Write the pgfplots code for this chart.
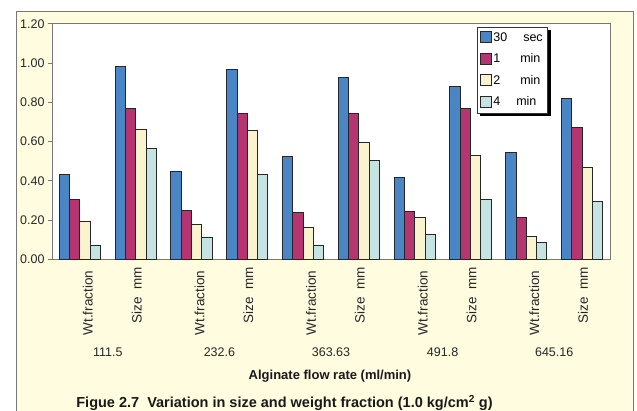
\documentclass[border=0pt]{standalone}
\usepackage{fontspec}
\setmainfont{Liberation Sans}
\usepackage{pgfplots}
\pgfplotsset{compat=1.18}
\usetikzlibrary{backgrounds}

\definecolor{sblue}{RGB}{74,134,197}
\definecolor{sred}{RGB}{181,53,112}
\definecolor{syellow}{RGB}{250,244,206}
\definecolor{scyan}{RGB}{196,227,226}
\definecolor{framebg}{RGB}{255,252,224}
\definecolor{framegray}{RGB}{120,120,120}

\newcommand{\tfont}{\fontsize{12.5bp}{15bp}\selectfont}
\pgfplotsset{sq/.style={legend image code/.code={\draw[##1, line width=0.8bp] (0bp,-5bp) rectangle (11bp,6bp);}}}

\begin{document}
\begin{tikzpicture}[x=1bp,y=1bp]
\useasboundingbox (0,0) rectangle (637,410);
\begin{pgfonlayer}{background}
\fill[white] (0,0) rectangle (637,410);
\draw[framegray, line width=1bp, fill=framebg] (16,-20) rectangle (633,398);
\fill[white] (52,150.7) rectangle (610,386);
\end{pgfonlayer}

\begin{axis}[
    at={(52bp,150.7bp)}, anchor=south west,
    scale only axis,
    width=558bp, height=235.3bp,
    axis line style={framegray, line width=1bp},
    ybar=0pt, bar width=10.3bp,
    xmin=-0.5, xmax=9.5,
    ymin=0, ymax=1.2,
    ytick={0,0.2,0.4,0.6,0.8,1.0,1.2},
    yticklabel style={/pgf/number format/.cd, fixed, precision=2, fixed zerofill},
    /pgf/number format/assume math mode=true,
    ticklabel style={font=\tfont, text=black!85},
    tick align=outside, major tick length=4bp,
    y tick style={framegray, line width=1bp},
    ytick pos=left,
    xtick={0,2,4,6,8},
    xticklabels={Wt.fraction, Wt.fraction, Wt.fraction, Wt.fraction, Wt.fraction},
    x tick style={draw=none},
    xticklabel style={font=\fontsize{13.5bp}{15bp}\selectfont, rotate=90, anchor=east, yshift=-8bp, xshift=-4bp},
    extra x ticks={1,3,5,7,9},
    extra x tick labels={Size\ \ mm, Size\ \ mm, Size\ \ mm, Size\ \ mm, Size\ \ mm},
    extra x tick style={xticklabel style={yshift=7bp, xshift=4bp}},
    clip=false,
    legend style={name=leg, at={(0.761,0.9885)}, anchor=north west, draw=black!80, fill=white,
        line width=0.8bp, font=\tfont, row sep=7bp, inner xsep=3bp, inner ysep=3.5bp,
        nodes={inner xsep=1.5bp},
        legend cell align=left},
    every axis plot/.append style={draw=black!85, line width=0.9bp},
]
% 30 sec
\addplot[fill=sblue, sq] coordinates {(0,0.433)(1,0.984)(2,0.447)(3,0.970)(4,0.522)(5,0.925)(6,0.416)(7,0.880)(8,0.544)(9,0.819)};
% 1 min
\addplot[fill=sred, sq] coordinates {(0,0.304)(1,0.770)(2,0.251)(3,0.744)(4,0.238)(5,0.744)(6,0.245)(7,0.770)(8,0.214)(9,0.671)};
% 2 min
\addplot[fill=syellow, sq] coordinates {(0,0.194)(1,0.664)(2,0.176)(3,0.656)(4,0.161)(5,0.595)(6,0.214)(7,0.528)(8,0.117)(9,0.469)};
% 4 min
\addplot[fill=scyan, sq] coordinates {(0,0.073)(1,0.566)(2,0.110)(3,0.433)(4,0.073)(5,0.506)(6,0.125)(7,0.304)(8,0.087)(9,0.297)};
\legend{30\hspace{16bp}sec\hspace{2bp}, 1\hspace{20bp}min, 2\hspace{20bp}min, 4\hspace{16bp}min}

\node[font=\tfont, text=black!85] at (axis cs:0.5,-0.473) {111.5};
\node[font=\tfont, text=black!85] at (axis cs:2.5,-0.473) {232.6};
\node[font=\tfont, text=black!85] at (axis cs:4.5,-0.473) {363.63};
\node[font=\tfont, text=black!85] at (axis cs:6.5,-0.473) {491.8};
\node[font=\tfont, text=black!85] at (axis cs:8.5,-0.473) {645.16};
\end{axis}

\begin{pgfonlayer}{background}
\fill[black] ([shift={(3bp,-3bp)}]leg.south west) rectangle ([shift={(3bp,-3bp)}]leg.north east);
\end{pgfonlayer}

\node[font=\fontsize{13bp}{15bp}\selectfont\bfseries, text=black!90] at (330,34) {Alginate flow rate (ml/min)};
\node[font=\fontsize{14.5bp}{16bp}\selectfont\bfseries, text=black!90] at (284.5,7) {Figue 2.7\ \ Variation in size and weight fraction (1.0 kg/cm\textsuperscript{2} g)};
\end{tikzpicture}
\end{document}
